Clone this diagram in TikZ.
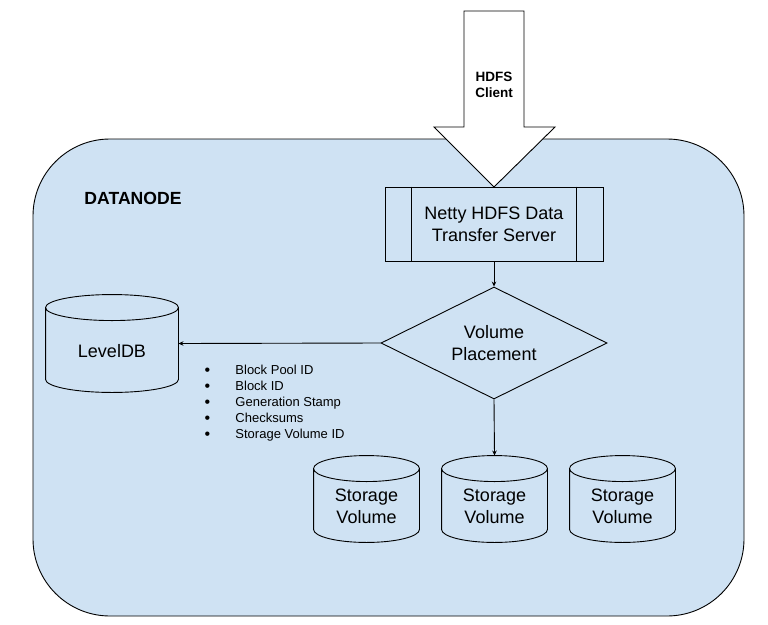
\documentclass[tikz,border=0pt]{standalone}
\usepackage{fontspec}
\setmainfont{Liberation Sans}
\usetikzlibrary{shapes.geometric,arrows.meta,calc}
\definecolor{dnblue}{HTML}{CFE2F3}
\newcommand\drawcyl[1]{%
  \draw[cylline] let \p1=(#1.north west), \p2=(#1.south east), \n1={(\x2-\x1)/2} in
    (\x1,\y1-13pt) -- (\x1,\y2+13pt)
    arc[start angle=180,end angle=360,x radius=\n1,y radius=13pt]
    -- (\x2,\y1-13pt)
    arc[start angle=0,end angle=180,x radius=\n1,y radius=13pt] -- cycle
    (\x1,\y1-13pt) arc[start angle=180,end angle=360,x radius=\n1,y radius=13pt];
}
\newcommand\blt{\makebox[30.8pt][l]{\raisebox{-1.1pt}{\fontsize{16}{16}\selectfont•}}}
\begin{document}
\begin{tikzpicture}[x=1pt,y=-1pt,line width=0.9pt,
  conn/.style={draw,-{Stealth[length=5pt,width=4.5pt]}},
  cylline/.style={draw,fill=dnblue,line width=0.9pt},
  cylbox/.style={rectangle,inner sep=0pt},
  bigtext/.style={font=\fontsize{18}{22}\selectfont,align=center},
  procbox/.style={draw,rectangle,inner sep=0pt,minimum width=218pt,minimum height=74pt},
  decision/.style={draw,diamond,aspect=2,inner sep=0pt,minimum width=226pt,minimum height=112pt}]
\useasboundingbox (0,0) rectangle (768,624);
% container
\draw[fill=dnblue,rounded corners=77pt] (33,139) rectangle (744,616);
\node[font=\bfseries\fontsize{17.6}{20}\selectfont] (dn) at (133,198) {DATANODE};
% client block arrow
\draw[fill=white,line width=0.9pt] (464,11) -- (524,11) -- (524,127) -- (555,127) -- (494,187) -- (434,127) -- (464,127) -- cycle;
\node[font=\bfseries\fontsize{13.5}{16}\selectfont,align=center] (client) at (494,85) {HDFS\\Client};
% netty server
\node[procbox,bigtext,fill=dnblue] (net) at (494,224) {Netty HDFS Data\\Transfer Server};
\draw ([xshift=27pt]net.north west) -- ([xshift=27pt]net.south west);
\draw ([xshift=-27pt]net.north east) -- ([xshift=-27pt]net.south east);
% volume placement
\node[decision,bigtext,fill=dnblue] (vp) at (494,343) {Volume\\Placement};
% LevelDB
\node[cylbox,minimum width=132pt,minimum height=97pt] (ldb) at (112,343.5) {};
\drawcyl{ldb}
\node[bigtext] (ldbt) at ([yshift=-8pt]ldb.center) {LevelDB};
% storage volumes
\node[cylbox,minimum width=105pt,minimum height=86pt] (sv1) at (366.5,499) {};
\node[cylbox,minimum width=105pt,minimum height=86pt] (sv2) at (494.5,499) {};
\node[cylbox,minimum width=105pt,minimum height=86pt] (sv3) at (622.5,499) {};
\drawcyl{sv1}
\drawcyl{sv2}
\drawcyl{sv3}
\node[bigtext] (sv1t) at ([yshift=-7pt]sv1.center) {Storage\\Volume};
\node[bigtext] (sv2t) at ([yshift=-7pt]sv2.center) {Storage\\Volume};
\node[bigtext] (sv3t) at ([yshift=-7pt]sv3.center) {Storage\\Volume};
% bullet list
\node[anchor=west,inner sep=0pt,align=left,font=\fontsize{13}{16}\selectfont] (list) at (204.2,403.3)
  {\blt Block Pool ID\\
   \blt Block ID\\
   \blt Generation Stamp\\
   \blt Checksums\\
   \blt Storage Volume ID};
% connectors
\draw[conn] (net.south) -- (vp.north);
\draw[conn] (vp.west) -- (ldb.east);
\draw[conn] (vp.south) -- (sv2.north);
\end{tikzpicture}
\end{document}
